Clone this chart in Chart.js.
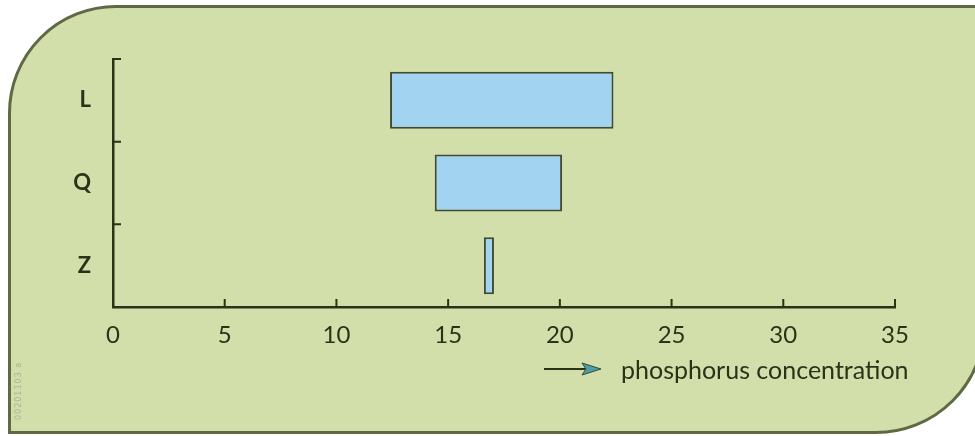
<!DOCTYPE html>
<html>
<head>
<meta charset="utf-8">
<script src="https://cdn.jsdelivr.net/npm/chart.js@4.4.1/dist/chart.umd.min.js"></script>
<style>
  html, body { margin: 0; padding: 0; background: #fff; overflow: hidden; }
  #wrap { position: relative; width: 975px; height: 436px; }
  #panel {
    position: absolute; left: 8px; top: 5px; width: 972px; height: 423px;
    background: #d2dfab; border: 3px solid #5e6a44;
    border-radius: 108px 0 110px 0;
  }
  #chart { position: absolute; left: 0; top: 0; }
  #legend {
    position: absolute; left: 544px; top: 354px; height: 30px;
    font-family: Lato, "Open Sans", sans-serif; font-size: 25px; color: #2a3318;
    display: flex; align-items: center; white-space: nowrap;
  }
  #legend svg { margin-right: 19px; }
  #stamp {
    position: absolute; left: 14px; top: 420px; transform: rotate(-90deg); transform-origin: 0 0;
    font-family: "DejaVu Sans", sans-serif; font-size: 8px; color: #aab592; letter-spacing: 1px;
  }
</style>
</head>
<body>
<div id="wrap">
  <div id="panel"></div>
  <canvas id="chart" width="975" height="436"></canvas>
  <div id="legend">
    <svg width="58" height="16" viewBox="0 0 58 16">
      <line x1="0" y1="8" x2="44" y2="8" stroke="#2a3318" stroke-width="2"/>
      <polygon points="38,2 57,8 38,14 42,8" fill="#4f9ea4" stroke="#2f4a3a" stroke-width="1"/>
    </svg>
    <span>phosphorus concentration</span>
  </div>
  <div id="stamp">00201103 a</div>
</div>
<script>
// categories and ranges (start, end)
const categories = ['L', 'Q', 'Z'];
const rangeStart = [12.4, 14.4, 16.6];
const rangeEnd = [22.4, 20.1, 17.05];
const xTicks = [0, 5, 10, 15, 20, 25, 30, 35];

const axisColor = '#2a3318';
const textColor = '#2a3318';

// small tick marks drawn inside the plot area, like the original
const innerTicks = {
  id: 'innerTicks',
  afterDraw(chart) {
    const ctx = chart.ctx;
    const x = chart.scales.x;
    const y = chart.scales.y;
    const len = 8;
    ctx.save();
    ctx.strokeStyle = axisColor;
    ctx.lineWidth = 2;
    ctx.beginPath();
    xTicks.slice(1).forEach(v => {
      const px = x.getPixelForValue(v);
      ctx.moveTo(px, x.top);
      ctx.lineTo(px, x.top - len);
    });
    const bounds = [y.top];
    for (let i = 0; i < categories.length - 1; i++) {
      bounds.push((y.getPixelForValue(i) + y.getPixelForValue(i + 1)) / 2);
    }
    bounds.forEach(py => {
      ctx.moveTo(y.right, py);
      ctx.lineTo(y.right + len, py);
    });
    ctx.stroke();
    ctx.restore();
  }
};

new Chart(document.getElementById('chart'), {
  type: 'bar',
  data: {
    labels: categories,
    datasets: [{
      data: categories.map((c, i) => [rangeStart[i], rangeEnd[i]]),
      backgroundColor: '#a2d3f1',
      borderColor: '#3f4b34',
      borderWidth: 2,
      borderSkipped: false,
      barPercentage: 0.69,
      categoryPercentage: 1
    }]
  },
  options: {
    indexAxis: 'y',
    responsive: false,
    devicePixelRatio: 1,
    animation: false,
    layout: { padding: { left: 0, right: 80, top: 59, bottom: 0 } },
    plugins: {
      legend: { display: false },
      tooltip: { enabled: false }
    },
    scales: {
      x: {
        type: 'linear',
        min: 0,
        max: 35,
        afterFit(scale) { scale.height = 129; },
        afterBuildTicks(scale) { scale.ticks = xTicks.map(v => ({ value: v })); },
        grid: { display: true, drawOnChartArea: false, drawTicks: false },
        border: { display: true, color: axisColor, width: 2.5 },
        ticks: {
          padding: 14,
          color: textColor,
          font: { family: 'Lato, "Open Sans", sans-serif', size: 24 }
        }
      },
      y: {
        afterFit(scale) { scale.width = 113; },
        grid: { display: true, drawOnChartArea: false, drawTicks: false },
        border: { display: true, color: axisColor, width: 2.5 },
        ticks: {
          padding: 22,
          color: textColor,
          font: { family: 'Lato, "Open Sans", sans-serif', size: 22, weight: 'bold' }
        }
      }
    }
  },
  plugins: [innerTicks]
});
</script>
</body>
</html>
